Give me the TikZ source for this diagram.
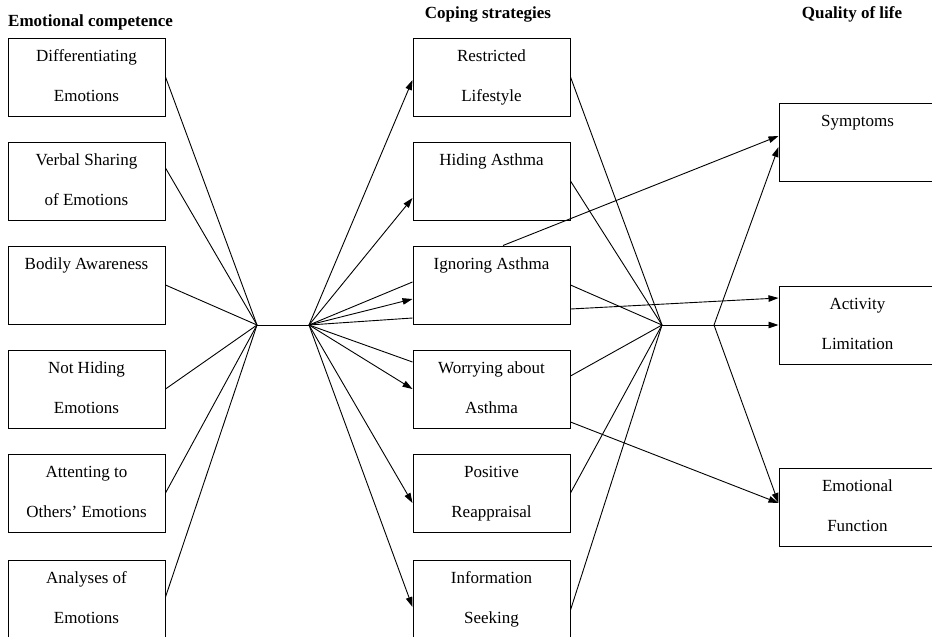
\documentclass[tikz,border=0pt]{standalone}
\usepackage{fontspec}
\setmainfont{Liberation Serif}
\usetikzlibrary{arrows.meta}

\newcommand{\boxtext}[1]{\parbox[c][78pt][t]{157pt}{\centering\rule{0pt}{23pt}#1}}

\tikzset{
  stepbox/.style={draw, inner sep=0pt, line width=1pt, font=\fontsize{17}{40}\selectfont},
  heading/.style={font=\fontsize{17}{20}\selectfont\bfseries, inner sep=0pt},
  link/.style={line width=0.9pt},
  arrow/.style={link, -{Triangle[length=10pt,width=6.5pt]}}
}

\begin{document}
\begin{tikzpicture}[x=1pt,y=-1pt]
\useasboundingbox (0,0) rectangle (932,637);
\clip (0,0) rectangle (932,637);

% headings
\node[heading, anchor=base west] (hec) at (8,27) {Emotional competence};
\node[heading, anchor=base] (hcs) at (488,19) {Coping strategies};
\node[heading, anchor=base] (hql) at (852,19) {Quality of life};

% emotional competence
\node[stepbox] (ec1) at (86.5,77)  {\boxtext{Differentiating\\Emotions}};
\node[stepbox] (ec2) at (86.5,181) {\boxtext{Verbal Sharing\\of Emotions}};
\node[stepbox] (ec3) at (86.5,285) {\boxtext{Bodily Awareness}};
\node[stepbox] (ec4) at (86.5,389) {\boxtext{Not Hiding\\Emotions}};
\node[stepbox] (ec5) at (86.5,493) {\boxtext{Attenting to\\Others’ Emotions}};
\node[stepbox] (ec6) at (86.5,599) {\boxtext{Analyses of\\Emotions}};

% coping strategies
\node[stepbox] (cs1) at (491.5,77)  {\boxtext{Restricted\\Lifestyle}};
\node[stepbox] (cs2) at (491.5,181) {\boxtext{Hiding Asthma}};
\node[stepbox] (cs3) at (491.5,285) {\boxtext{Ignoring Asthma}};
\node[stepbox] (cs4) at (491.5,389) {\boxtext{Worrying about\\Asthma}};
\node[stepbox] (cs5) at (491.5,493) {\boxtext{Positive\\Reappraisal}};
\node[stepbox] (cs6) at (491.5,599) {\boxtext{Information\\Seeking}};

% quality of life
\node[stepbox] (ql1) at (857.5,142) {\boxtext{Symptoms}};
\node[stepbox] (ql2) at (857.5,325) {\boxtext{Activity\\Limitation}};
\node[stepbox] (ql3) at (857.5,507) {\boxtext{Emotional\\Function}};

\coordinate (ja) at (257,325);
\coordinate (jb) at (309,325);
\coordinate (jc) at (662,325);
\coordinate (jd) at (714,325);

% left fan
\draw[link] (ec1.east) -- (ja);
\draw[link] ([yshift=13pt]ec2.east) -- (ja);
\draw[link] (ec3.east) -- (ja);
\draw[link] (ec4.east) -- (ja);
\draw[link] (ec5.east) -- (ja);
\draw[link] ([yshift=2pt]ec6.east) -- (ja);
\draw[link] (ja) -- (jb);

% middle fan
\draw[arrow] (jb) -- ([yshift=-3pt]cs1.west);
\draw[arrow] (jb) -- ([yshift=-17pt]cs2.west);
\draw[link]  (jb) -- ([yshift=3pt]cs3.west);
\draw[arrow] (jb) -- ([yshift=-14pt]cs3.west);
\draw[link]  (jb) -- ([yshift=-33pt]cs3.west);
\draw[link]  (jb) -- ([yshift=27pt]cs4.west);
\draw[arrow] (jb) -- (cs4.west);
\draw[arrow] (jb) -- ([yshift=-10pt]cs5.west);
\draw[arrow] (jb) -- ([yshift=-8pt]cs6.west);

% right fan
\draw[link] (cs1.east) -- (jc);
\draw[link] (cs2.east) -- (jc);
\draw[link] (cs3.east) -- (jc);
\draw[link] ([yshift=13pt]cs4.east) -- (jc);
\draw[link] (cs5.east) -- (jc);
\draw[link] ([yshift=-11pt]cs6.east) -- (jc);
\draw[link] (jc) -- (jd);

\draw[arrow] ([xshift=11.5pt]cs3.north) -- ([yshift=6pt]ql1.west);
\draw[arrow] ([yshift=-24pt]cs3.east) -- ([yshift=27pt]ql2.west);
\draw[arrow] ([yshift=-33pt]cs4.east) -- ([yshift=4pt]ql3.west);
\draw[arrow] (jd) -- ([yshift=-5pt]ql1.west);
\draw[arrow] (jd) -- (ql2.west);
\draw[arrow] (jd) -- ([yshift=4pt]ql3.west);
\end{tikzpicture}
\end{document}
